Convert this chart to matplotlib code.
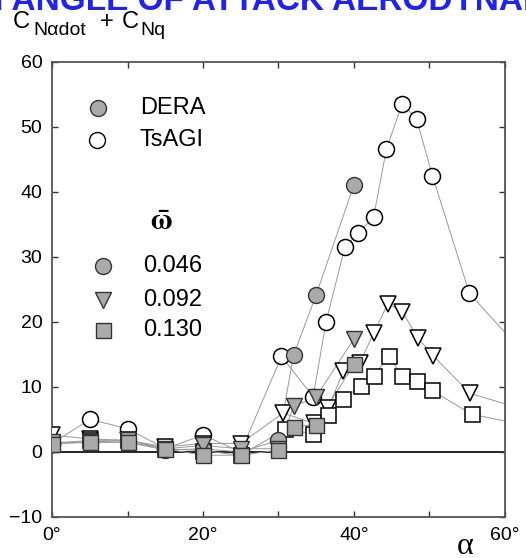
import matplotlib
matplotlib.use("Agg")
import matplotlib.pyplot as plt

plt.rcParams['font.family'] = ['Liberation Sans', 'DejaVu Sans']

# TsAGI (open markers)
ts_circ_a = [0, 5, 10, 15, 20, 25, 30.4, 34.6, 36.3, 38.8, 40.6, 42.6, 44.3, 46.4, 48.3, 50.4, 55.3, 65]
ts_circ_v = [1.3, 5.0, 3.6, 0.5, 2.6, 0.0, 14.7, 8.5, 20.0, 31.5, 33.7, 36.1, 46.6, 53.6, 51.2, 42.5, 24.4, 12.0]
ts_tri_a = [0, 5, 10, 15, 20, 25, 30.6, 34.7, 36.6, 38.6, 40.8, 42.6, 44.5, 46.4, 48.5, 50.5, 55.4, 65]
ts_tri_v = [2.6, 2.0, 1.8, 0.8, 1.3, 1.3, 6.0, 4.4, 6.8, 12.4, 13.7, 18.3, 22.8, 21.6, 17.5, 14.8, 9.0, 5.7]
ts_sq_a = [0, 5, 10, 15, 20, 25, 30.9, 34.6, 36.5, 38.5, 41.0, 42.6, 44.6, 46.4, 48.4, 50.3, 55.6, 65]
ts_sq_v = [1.3, 1.8, 1.8, 0.5, 0.2, -0.5, 3.5, 2.8, 5.7, 8.1, 10.2, 11.7, 14.7, 11.7, 10.9, 9.5, 5.8, 3.6]

# DERA (filled markers)
dera_a = [0, 5, 10, 15, 20, 25, 30, 32, 35, 40]
dera_circ_v = [1.3, 1.5, 1.5, 0.3, 0.5, 0.0, 1.8, 14.9, 24.2, 41.1]
dera_tri_v = [1.5, 1.5, 1.8, 0.5, 1.0, 0.5, 0.5, 7.0, 8.5, 17.4]
dera_sq_v = [1.3, 1.5, 1.5, 0.5, -0.5, -0.5, 0.3, 3.9, 4.2, 13.5]

freqs = ['0.046', '0.092', '0.130']
xticks = [0, 10, 20, 30, 40, 50, 60]
xlabels = ['0°', '', '20°', '', '40°', '', '60°']
yticks = [-10, 0, 10, 20, 30, 40, 50, 60]

gray = '#aaaaaa'
linec = '#999999'

fig = plt.figure(figsize=(5.26, 5.58), dpi=100)
ax = fig.add_axes([0.0989, 0.0735, 0.861, 0.8155])

ax.axhline(0, color='black', lw=1.2, zorder=1)

mk = {'o': 11.5, 'v': 11.5, 's': 10.8}
for a, v, m in [(ts_circ_a, ts_circ_v, 'o'), (ts_tri_a, ts_tri_v, 'v'), (ts_sq_a, ts_sq_v, 's')]:
    ax.plot(a, v, color=linec, lw=0.7, zorder=2)
    ax.plot(a, v, ls='none', marker=m, ms=mk[m], mfc='white', mec='black', mew=1.1, zorder=3)
for v, m in [(dera_circ_v, 'o'), (dera_tri_v, 'v'), (dera_sq_v, 's')]:
    ax.plot(dera_a, v, color=linec, lw=0.7, zorder=2)
    ax.plot(dera_a, v, ls='none', marker=m, ms=mk[m], mfc=gray, mec='#333333', mew=1.0, zorder=4)

ax.set_xlim(0, 60)
ax.set_ylim(-10, 60)
ax.set_xticks(xticks)
ax.set_xticklabels(xlabels)
ax.set_yticks(yticks)
ax.tick_params(direction='in', length=4, width=1, top=True, right=True,
               labelsize=14, pad=7, color='#333333')
for s in ax.spines.values():
    s.set_color('#555555')
    s.set_linewidth(1.3)

# legend drawn by hand in axes coordinates
def ax_xy(px, py):
    return ((px - 52) / 453.0, (517 - py) / 455.0)

leg = [((98, 108), 'o', gray, 'DERA'), ((97, 140), 'o', 'white', 'TsAGI')]
for (px, py), m, fc, lab in leg:
    x, y = ax_xy(px, py)
    ax.plot([x], [y], marker=m, ms=11.5, mfc=fc, mec='#333333' if fc == gray else 'black',
            mew=1.0, transform=ax.transAxes, clip_on=False)
    x2, _ = ax_xy(140, py)
    ax.text(x2, y, lab, transform=ax.transAxes, fontsize=17, va='center', ha='left')

x, y = ax_xy(161, 222)
ax.text(x, y, r'$\mathbf{\bar{\omega}}$', transform=ax.transAxes, fontsize=21,
        ha='center', va='center', math_fontfamily='stix')
for (py, m), lab in zip([(266, 'o'), (300, 'v'), (330, 's')], freqs):
    x, y = ax_xy(103, py)
    ax.plot([x], [y], marker=m, ms=mk[m], mfc=gray, mec='#333333', mew=1.0,
            transform=ax.transAxes, clip_on=False)
    x2, _ = ax_xy(143, py)
    ax.text(x2, y, lab, transform=ax.transAxes, fontsize=17, va='center', ha='left')

# y label: C_Nαdot + C_Nq, built from pieces
W, H = 526.0, 558.0
for px, py, s, fs in [(13, 28, 'C', 17), (33, 35, 'Nαdot', 14), (100, 28, '+', 17),
                      (122, 28, 'C', 17), (140, 35, 'Nq', 14)]:
    fig.text(px / W, 1 - py / H, s, fontsize=fs, ha='left', va='baseline')

fig.text(465 / W, 1 - 554 / H, 'α', fontsize=23, ha='center', va='baseline',
         family='Liberation Serif')
fig.text(0.5, 1 - 10 / H, 'HIGH ANGLE OF ATTACK AERODYNAMICS', color='#2222ee',
         fontsize=24, fontweight='bold', ha='center', va='baseline')

fig.savefig('out.png', dpi=100)
